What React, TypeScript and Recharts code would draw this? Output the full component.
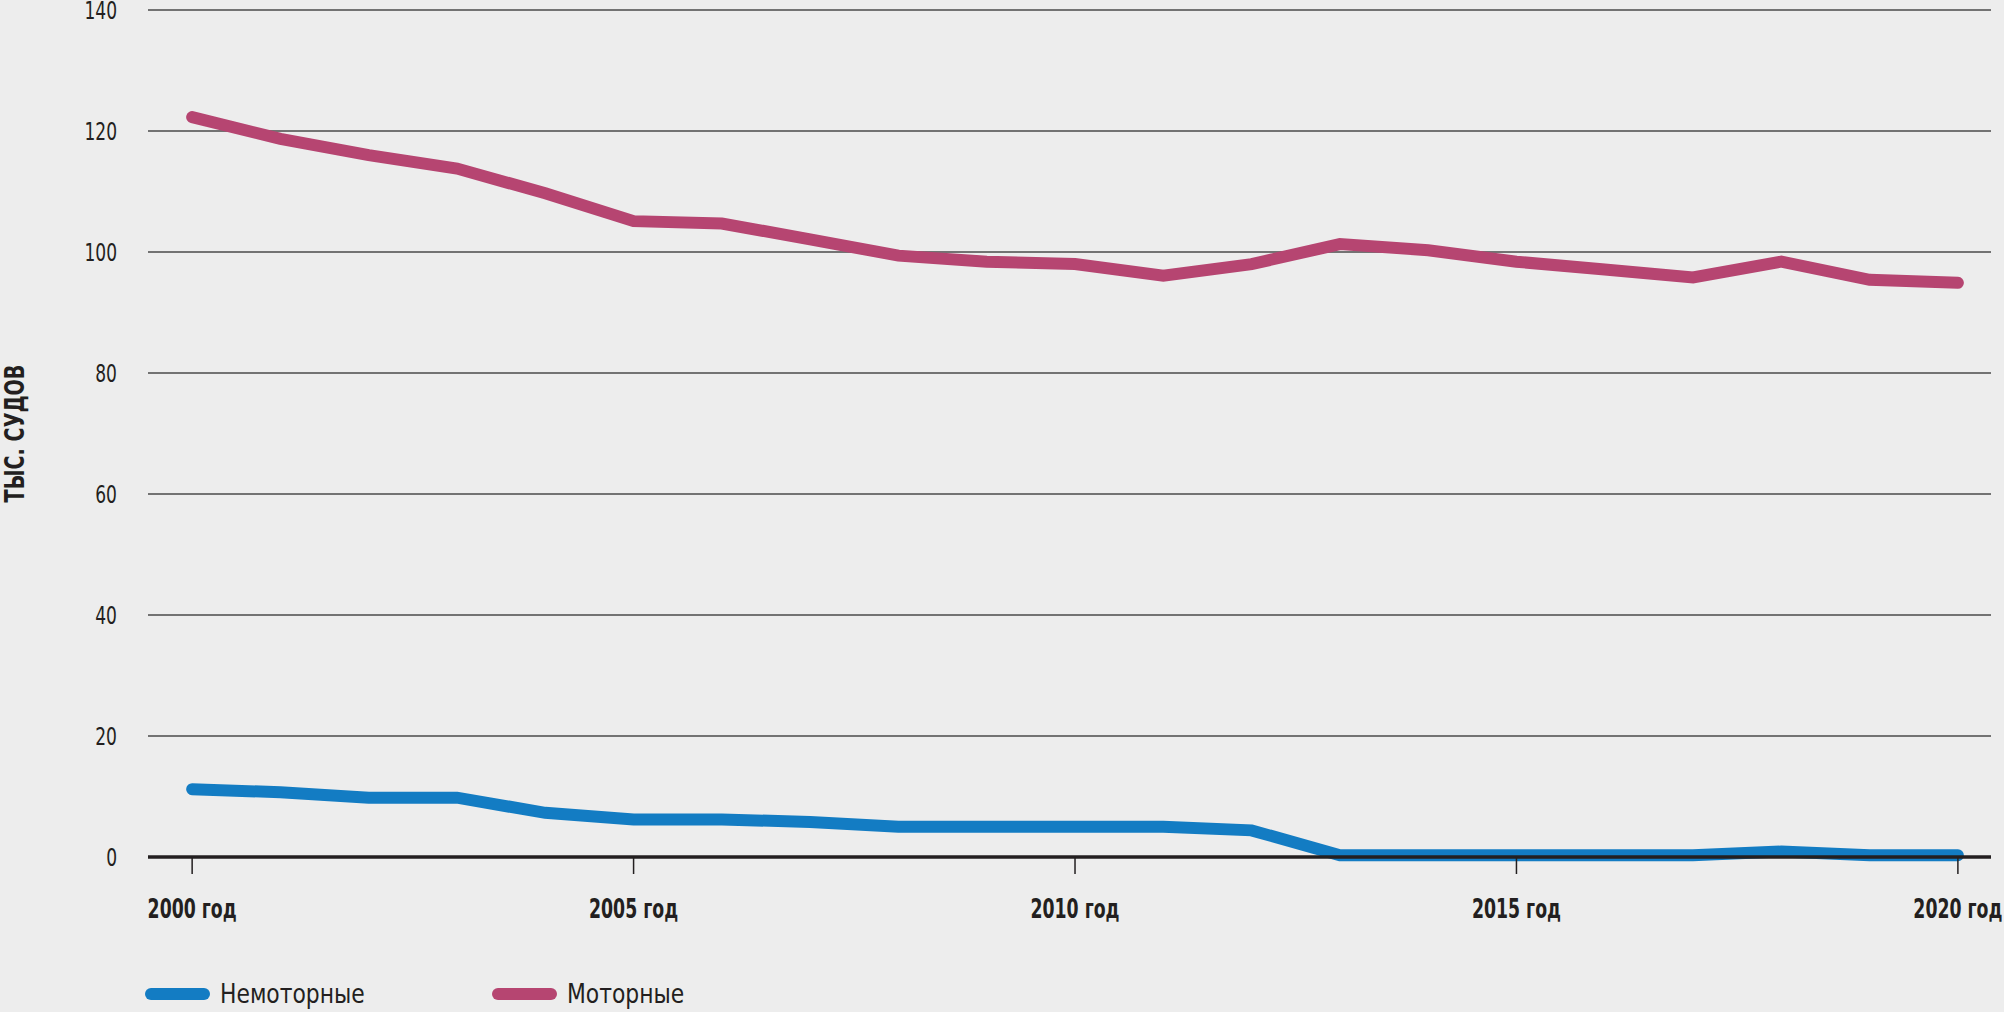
import React from 'react';
import { LineChart, Line, XAxis, YAxis, CartesianGrid } from 'recharts';

const YEARS = [
  2000, 2001, 2002, 2003, 2004, 2005, 2006, 2007, 2008, 2009, 2010,
  2011, 2012, 2013, 2014, 2015, 2016, 2017, 2018, 2019, 2020,
];
const NON_MOTOR = [
  11.2, 10.7, 9.8, 9.8, 7.3, 6.2, 6.2, 5.8, 5.0, 5.0, 5.0,
  5.0, 4.4, 0.3, 0.3, 0.3, 0.3, 0.3, 0.9, 0.3, 0.3,
];
const MOTOR = [
  122.3, 118.7, 116.0, 113.8, 109.7, 105.1, 104.7, 102.1, 99.4, 98.4, 98.0,
  96.1, 98.0, 101.3, 100.3, 98.4, 97.1, 95.8, 98.4, 95.4, 94.9,
];
const X_TICKS = [2000, 2005, 2010, 2015, 2020];
const Y_TICKS = [0, 20, 40, 60, 80, 100, 120, 140];

const SERIES = [
  { key: 'nonMotor', name: 'Немоторные', color: '#137cc3' },
  { key: 'motor', name: 'Моторные', color: '#b64571' },
];

const data = YEARS.map((year, i) => ({
  year,
  nonMotor: NON_MOTOR[i],
  motor: MOTOR[i],
}));

const FONT = "'DejaVu Sans Condensed', 'DejaVu Sans', sans-serif";
const INK = '#231f20';

// the reference uses a very narrow face, so squeeze the text horizontally
const XTick = ({ x, y, payload }: any) => (
  <g transform={`translate(${x},${y + 35}) scale(0.74,1)`}>
    <text x={0} y={0} textAnchor="middle" dominantBaseline="central" fontFamily={FONT} fontSize={26} fontWeight="bold" fill={INK}>
      {`${payload.value} год`}
    </text>
  </g>
);

const YTick = ({ x, y, payload }: any) => (
  <g transform={`translate(${x},${y}) scale(0.76,1)`}>
    <text x={0} y={0} textAnchor="end" dominantBaseline="central" fontFamily={FONT} fontSize={25} fill={INK}>
      {payload.value}
    </text>
  </g>
);

const YTitle = ({ viewBox }: any) => {
  const cy = viewBox.y + viewBox.height / 2;
  return (
    <g transform={`translate(15,${cy}) rotate(-90) scale(0.82,1)`}>
      <text x={0} y={0} textAnchor="middle" dominantBaseline="central" fontFamily={FONT} fontSize={26} fontWeight="bold" fill={INK}>
        ТЫС. СУДОВ
      </text>
    </g>
  );
};

const LegendBox = () => (
  <svg width={700} height={40} style={{ position: 'absolute', left: 145, top: 974 }}>
    {SERIES.map((s, i) => {
      const x0 = i * 347;
      return (
        <g key={s.key}>
          <line x1={x0 + 6} y1={20} x2={x0 + 59} y2={20} stroke={s.color} strokeWidth={12} strokeLinecap="round" />
          <g transform={`translate(${x0 + 75},20) scale(0.9,1)`}>
            <text x={0} y={0} dominantBaseline="central" fontFamily={FONT} fontSize={27} fill={INK}>
              {s.name}
            </text>
          </g>
        </g>
      );
    })}
  </svg>
);

const App: React.FC = () => {
  return (
    <div style={{ position: 'absolute', left: 0, top: 0, width: 2004, height: 1012, background: '#ededed' }}>
      <LineChart width={2004} height={1012} data={data} margin={{ top: 10, right: 13, bottom: 125, left: 88 }}>
        <CartesianGrid vertical={false} stroke="#4a4a4a" strokeWidth={1.3} />
        <XAxis
          dataKey="year"
          type="number"
          height={30}
          domain={[1999.5, 2020.375]}
          ticks={X_TICKS}
          axisLine={{ stroke: INK, strokeWidth: 3.5 }}
          tickLine={{ stroke: INK, strokeWidth: 1.5 }}
          tickSize={17}
          tickMargin={0}
          tick={<XTick />}
        />
        <YAxis
          width={60}
          domain={[0, 140]}
          ticks={Y_TICKS}
          axisLine={false}
          tickLine={false}
          tickSize={0}
          tickMargin={31}
          tick={<YTick />}
          label={{ content: <YTitle /> }}
        />
        {SERIES.map((s) => (
          <Line
            key={s.key}
            type="linear"
            dataKey={s.key}
            name={s.name}
            stroke={s.color}
            strokeWidth={12}
            strokeLinecap="round"
            dot={false}
            activeDot={false}
            isAnimationActive={false}
          />
        ))}
      </LineChart>
      <LegendBox />
    </div>
  );
};

export default App;
